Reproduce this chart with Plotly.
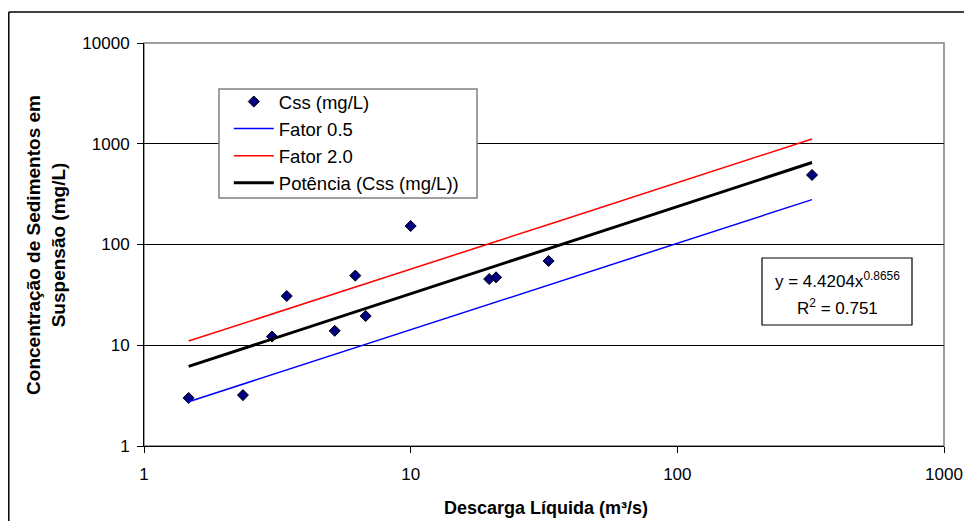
import numpy as np
import plotly.graph_objects as go

# Observed data (Descarga Líquida m³/s, Css mg/L)
descarga = [1.47, 2.35, 3.02, 3.43, 5.19, 6.20, 6.78, 10.0, 19.7, 20.9, 32.9, 320.0]
css = [3.0, 3.2, 12.2, 30.8, 13.9, 49.1, 19.5, 152.6, 45.4, 47.2, 68.6, 489.8]

# Factor lines at each discharge value
fator_05 = [2.75, 4.11, 5.10, 5.69, 8.12, 9.45, 10.2, 14.25, 25.5, 26.8, 39.6, 279.0]
fator_20 = [11.0, 16.4, 20.4, 22.8, 32.5, 37.8, 40.8, 57.0, 101.9, 107.2, 158.2, 1115.0]

# Power trendline from the equation shown on the chart
coef_a = 4.4204
coef_b = 0.8656
r2 = 0.751

x_tick_vals = [1, 10, 100, 1000]
x_tick_text = ["1", "10", "100", "1000"]
y_tick_vals = [1, 10, 100, 1000, 10000]
y_tick_text = ["1", "10", "100", "1000", "10000"]

xfit = np.logspace(np.log10(min(descarga)), np.log10(max(descarga)), 200)
yfit = coef_a * xfit ** coef_b

FONT = "Liberation Sans, Arial, sans-serif"

fig = go.Figure()
fig.add_trace(go.Scatter(
    x=descarga, y=css, mode="markers", name="Css (mg/L)",
    marker=dict(symbol="diamond", size=8.5, color="#000080",
                line=dict(color="black", width=1)),
))
fig.add_trace(go.Scatter(
    x=descarga, y=fator_05, mode="lines", name="Fator 0.5",
    line=dict(color="#0000FF", width=1.5),
))
fig.add_trace(go.Scatter(
    x=descarga, y=fator_20, mode="lines", name="Fator 2.0",
    line=dict(color="#FF0000", width=1.5),
))
fig.add_trace(go.Scatter(
    x=xfit, y=yfit, mode="lines", name="Potência (Css (mg/L))",
    line=dict(color="black", width=3),
))

# plot area border (gray)
fig.add_shape(type="rect", xref="paper", yref="paper", x0=0, x1=1, y0=0, y1=1,
              line=dict(color="#808080", width=1.5), layer="below")
# chart outer border (left and top edges visible in the frame)
fig.add_shape(type="line", xref="paper", yref="paper", x0=-0.169, x1=-0.169, y0=-0.4, y1=1.077,
              line=dict(color="black", width=1.5), layer="below")
fig.add_shape(type="line", xref="paper", yref="paper", x0=-0.169, x1=1.2, y0=1.077, y1=1.077,
              line=dict(color="black", width=1.5), layer="below")
# legend frame
fig.add_shape(type="rect", xref="paper", yref="paper", x0=0.09375, x1=0.41625, y0=0.6154, y1=0.8859,
              line=dict(color="#808080", width=1.5), fillcolor="white", layer="above")
# equation frame
fig.add_shape(type="rect", xref="paper", yref="paper", x0=0.7725, x1=0.96, y0=0.3002, y1=0.4665,
              line=dict(color="black", width=1.2), fillcolor="white", layer="above")

fig.add_annotation(
    xref="paper", yref="paper", x=0.8663, y=0.4119, xanchor="center", yanchor="middle",
    text=f"y = {coef_a}x<sup>{coef_b}</sup>", showarrow=False,
    font=dict(family=FONT, size=17, color="black"),
)
fig.add_annotation(
    xref="paper", yref="paper", x=0.8663, y=0.3449, xanchor="center", yanchor="middle",
    text=f"R<sup>2</sup> = {r2}", showarrow=False,
    font=dict(family=FONT, size=17, color="black"),
)

# axis titles
fig.add_annotation(
    xref="paper", yref="paper", x=0.5025, y=-0.154, xanchor="center", yanchor="middle",
    text="<b>Descarga Líquida (m³/s)</b>", showarrow=False,
    font=dict(family=FONT, size=18, color="black"),
)
fig.add_annotation(
    xref="paper", yref="paper", x=-0.1225, y=0.499, xanchor="center", yanchor="middle",
    text="<b>Concentração de Sedimentos em<br>Suspensão (mg/L)</b>", showarrow=False,
    textangle=-90,
    font=dict(family=FONT, size=19, color="black"),
)

fig.update_layout(
    width=964, height=521,
    margin=dict(l=144, r=20, t=43, b=75),
    paper_bgcolor="white", plot_bgcolor="white",
    font=dict(family=FONT, size=17, color="black"),
    showlegend=True,
    legend=dict(
        x=0.106, y=0.9007, xanchor="left", yanchor="top",
        borderwidth=0, bgcolor="rgba(0,0,0,0)",
        font=dict(family=FONT, size=18.5, color="black"),
        itemwidth=40, tracegroupgap=0,
    ),
    xaxis=dict(
        type="log", range=[0, 3], tickvals=x_tick_vals, ticktext=x_tick_text,
        showgrid=False, showline=True, linecolor="black", linewidth=1,
        ticks="outside", ticklen=6, tickcolor="black", zeroline=False,
        ticklabelstandoff=7, automargin=False,
        tickfont=dict(family=FONT, size=17, color="black"),
    ),
    yaxis=dict(
        type="log", range=[0, 4], tickvals=y_tick_vals, ticktext=y_tick_text,
        showgrid=True, gridcolor="black", gridwidth=1,
        showline=True, linecolor="black", linewidth=1,
        ticks="outside", ticklen=6, tickcolor="black", zeroline=False,
        ticklabelstandoff=4, automargin=False,
        tickfont=dict(family=FONT, size=17, color="black"),
    ),
)

fig.write_html("out.html", config={"displayModeBar": False},
               post_script="document.body.style.margin='0px';document.body.style.overflow='hidden';")
